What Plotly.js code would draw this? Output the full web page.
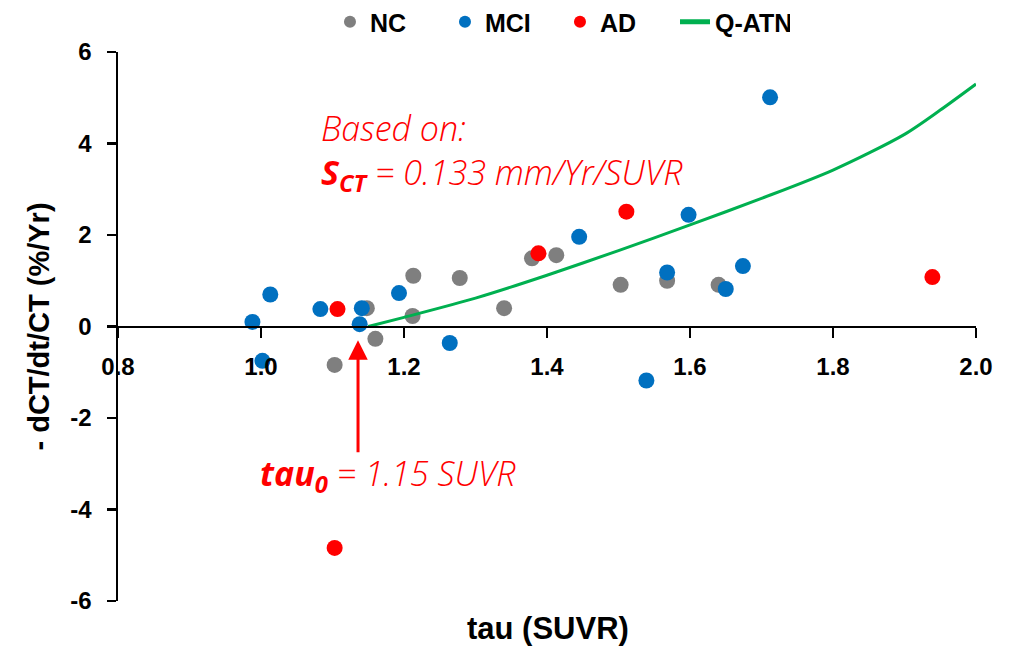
<!DOCTYPE html>
<html>
<head>
<meta charset="utf-8">
<script src="https://cdn.plot.ly/plotly-3.0.1.min.js"></script>
<style>
  html, body { margin: 0; padding: 0; background: #ffffff; }
  #chart { width: 1020px; height: 646px; }
</style>
</head>
<body>
<div id="chart"></div>
<script>
// ---- Data ----
const ncTau   = [1.148, 1.160, 1.103, 1.213, 1.212, 1.278, 1.340, 1.379, 1.413, 1.503, 1.568, 1.640];
const ncRate  = [0.40, -0.27, -0.84, 1.11, 0.23, 1.06, 0.40, 1.49, 1.56, 0.91, 1.00, 0.91];

const mciTau  = [0.988, 1.013, 1.083, 1.141, 1.138, 1.002, 1.193, 1.264, 1.445, 1.568, 1.598, 1.650, 1.539, 1.712, 1.674];
const mciRate = [0.10, 0.70, 0.38, 0.40, 0.05, -0.75, 0.73, -0.36, 1.96, 1.18, 2.44, 0.82, -1.18, 5.01, 1.32];

const adTau   = [1.107, 1.388, 1.511, 1.939, 1.103];
const adRate  = [0.38, 1.60, 2.51, 1.08, -4.84];

// Q-ATN model curve
const qatnTau  = [1.15, 1.20, 1.30, 1.40, 1.50, 1.60, 1.70, 1.80, 1.90, 1.95, 2.00];
const qatnRate = [0.00, 0.20, 0.62, 1.12, 1.66, 2.22, 2.80, 3.42, 4.20, 4.73, 5.30];

// Tick labels
const xTickVals = [0.8, 1.0, 1.2, 1.4, 1.6, 1.8, 2.0];
const xTickText = ["0.8", "1.0", "1.2", "1.4", "1.6", "1.8", "2.0"];
const yTickVals = [-6, -4, -2, 0, 2, 4, 6];
const yTickText = ["-6", "-4", "-2", "0", "2", "4", "6"];

// Group names
const groupNames = ["NC", "MCI", "AD", "Q-ATN"];

// ---- Chart ----
const FONT = "Liberation Sans, Arial, sans-serif";
const ANNO_FONT = "Open Sans, Liberation Sans, sans-serif";
const markerSize = 16;

const traces = [
  { type: "scatter", mode: "markers", name: groupNames[0], x: ncTau, y: ncRate,
    marker: { color: "#7f7f7f", size: markerSize }, legendrank: 1 },
  { type: "scatter", mode: "markers", name: groupNames[1], x: mciTau, y: mciRate,
    marker: { color: "#0070c0", size: markerSize }, legendrank: 2 },
  { type: "scatter", mode: "markers", name: groupNames[2], x: adTau, y: adRate,
    marker: { color: "#ff0000", size: markerSize }, legendrank: 3 },
  { type: "scatter", mode: "lines", name: groupNames[3], x: qatnTau, y: qatnRate,
    line: { color: "#00b050", width: 3, shape: "spline", smoothing: 0.8 }, legendrank: 4 }
];

const layout = {
  width: 1020,
  height: 646,
  paper_bgcolor: "#ffffff",
  plot_bgcolor: "#ffffff",
  margin: { l: 118, r: 44, t: 52, b: 45 },
  font: { family: FONT, color: "#000000", size: 24 },
  showlegend: true,
  legend: {
    orientation: "h",
    xref: "container", yref: "container",
    x: 0.549, xanchor: "center",
    y: 1 - 22 / 646, yanchor: "middle",
    entrywidth: 70,
    entrywidthmode: "pixels",
    font: { family: FONT, size: 25, weight: "bold", color: "#000000" },
    bgcolor: "rgba(0,0,0,0)",
    itemsizing: "constant"
  },
  xaxis: {
    range: [0.8, 2.0],
    anchor: "free",
    position: 0.5,
    tickmode: "array",
    tickvals: xTickVals,
    ticktext: xTickText,
    ticks: "outside",
    ticklen: 10,
    tickwidth: 2.5,
    tickcolor: "#000000",
    showline: true,
    linewidth: 2.5,
    linecolor: "#000000",
    showgrid: false,
    zeroline: false,
    ticklabelstandoff: 8,
    tickfont: { family: FONT, size: 24, weight: "bold", color: "#000000" }
  },
  yaxis: {
    range: [-6, 6],
    tickmode: "array",
    tickvals: yTickVals,
    ticktext: yTickText,
    ticks: "outside",
    ticklen: 9,
    tickwidth: 2.5,
    tickcolor: "#000000",
    showline: true,
    linewidth: 2.5,
    linecolor: "#000000",
    showgrid: false,
    zeroline: false,
    ticklabelstandoff: 10,
    tickfont: { family: FONT, size: 24, weight: "bold", color: "#000000" },
    title: {
      text: "- dCT/dt/CT (%/Yr)",
      font: { family: FONT, size: 29, weight: "bold", color: "#000000" },
      standoff: 12
    }
  },
  annotations: [
    { // x-axis title (axis sits at y = 0, so title placed at the bottom)
      text: "tau (SUVR)",
      xref: "paper", yref: "paper",
      x: 0.501, y: -0.05, xanchor: "center", yanchor: "middle",
      showarrow: false,
      font: { family: FONT, size: 31, weight: "bold", color: "#000000" }
    },
    {
      text: "<i>Based on:</i><br><i><b>S<sub>CT</sub></b> = 0.133 mm/Yr/SUVR</i>",
      xref: "x", yref: "y",
      x: 1.081, y: 3.82, xanchor: "left", yanchor: "middle", align: "left",
      showarrow: false,
      font: { family: ANNO_FONT, size: 34, color: "#ff0000", weight: 300 }
    },
    {
      text: "<i><b>tau<sub>0</sub></b> = 1.15 SUVR</i>",
      xref: "x", yref: "y",
      x: 0.996, y: -3.25, xanchor: "left", yanchor: "middle",
      showarrow: false,
      font: { family: ANNO_FONT, size: 34, color: "#ff0000", weight: 300 }
    },
    { // red arrow pointing at tau0
      text: "",
      xref: "x", yref: "y", axref: "x", ayref: "y",
      x: 1.1357, y: -0.30, ax: 1.1357, ay: -2.78,
      showarrow: true,
      arrowhead: 2, arrowsize: 1.3, arrowwidth: 3,
      arrowcolor: "#ff0000", standoff: 0, startstandoff: 0
    }
  ]
};

Plotly.newPlot("chart", traces, layout, { staticPlot: true, displayModeBar: false });
</script>
</body>
</html>
